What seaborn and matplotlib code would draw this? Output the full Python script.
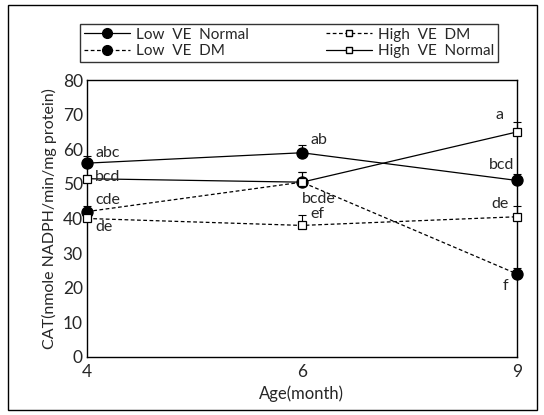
import numpy as np
import pandas as pd
import matplotlib
matplotlib.use("Agg")
import matplotlib.pyplot as plt
import seaborn as sns
from matplotlib.patches import Rectangle
from matplotlib.lines import Line2D

# Datos
ages = ["4", "6", "9"]
low_normal = [56, 59, 51]
low_dm = [42, 50.5, 24]
high_dm = [40, 38, 40.5]
high_normal = [51.5, 50.5, 65]

low_normal_err = [2, 2.3, 2]
low_dm_err = [1.7, 3, 1.7]
high_dm_err = [1, 3, 3]
high_normal_err = [1, 3, 3]

low_normal_lbl = ["abc", "ab", "bcd"]
low_dm_lbl = ["cde", "bcde", "f"]
high_dm_lbl = ["de", "ef", "de"]
high_normal_lbl = ["bcd", "", "a"]

sns.set_style("white")
plt.rcParams['font.family'] = ['Lato', 'DejaVu Sans']

fig = plt.figure(figsize=(5.44, 4.15), dpi=100)
ax = fig.add_axes([0.160, 0.140, 0.790, 0.667])

x = np.arange(len(ages))

series = [
    ("Low VE Normal", low_normal, low_normal_err, "o", "-", "black"),
    ("Low VE DM", low_dm, low_dm_err, "o", (0, (3, 2)), "black"),
    ("High VE DM", high_dm, high_dm_err, "s", (0, (3, 2)), "white"),
    ("High VE Normal", high_normal, high_normal_err, "s", "-", "white"),
]

for name, vals, err, mk, ls, fc in series:
    df = pd.DataFrame({"x": x, "y": vals})
    sns.lineplot(data=df, x="x", y="y", ax=ax, color="black", lw=0.9,
                 linestyle=ls, marker=mk, markersize=8 if mk == "o" else 6,
                 markerfacecolor=fc, markeredgecolor="black",
                 markeredgewidth=0.9, zorder=3)
    ax.errorbar(x, vals, yerr=[np.zeros(len(err)), err], fmt="none",
                ecolor="black", elinewidth=0.8, capsize=3, capthick=0.8,
                zorder=2)

for art in ax.lines + ax.collections:
    art.set_clip_on(False)

# Letras de significancia
offsets = {
    "low_normal": [(6, 2), (6, 4), (-20, 6)],
    "low_dm": [(6, 3), (0, -17), (-10, -14)],
    "high_dm": [(6, -11), (6, 3), (-18, 4)],
    "high_normal": [(6, -4), (0, 0), (-15, 7)],
}
groups = [("low_normal", low_normal, low_normal_lbl),
          ("low_dm", low_dm, low_dm_lbl),
          ("high_dm", high_dm, high_dm_lbl),
          ("high_normal", high_normal, high_normal_lbl)]
for key, vals, lbls in groups:
    for i, (v, t) in enumerate(zip(vals, lbls)):
        if not t:
            continue
        ax.annotate(t, (x[i], v), xytext=offsets[key][i],
                    textcoords="offset points", fontsize=11.5,
                    va="bottom", ha="left")

ax.set_xlim(0, 2)
ax.set_ylim(0, 80)
ax.set_xticks(x)
ax.set_xticklabels(ages)
ax.set_xticks([0.66, 1.33], minor=True)
ax.set_yticks(np.arange(0, 81, 10))
ax.tick_params(axis="y", direction="in", length=5, width=0.8, labelsize=12.5, pad=3)
ax.tick_params(axis="x", which="major", length=0, labelsize=12.5, pad=5)
ax.tick_params(axis="x", which="minor", direction="in", length=5, width=0.8)
ax.set_xlabel("Age(month)", fontsize=12)
ax.set_ylabel("CAT(nmole NADPH/min/mg protein)", fontsize=11.5, labelpad=4)
for s in ax.spines.values():
    s.set_color("black")
    s.set_linewidth(1.0)

# Leyenda en caja
handles = [
    Line2D([], [], color="black", lw=0.9, ls="-", marker="o", markersize=7,
           markerfacecolor="black"),
    Line2D([], [], color="black", lw=0.9, ls=(0, (3, 2)), marker="o", markersize=7,
           markerfacecolor="black"),
    Line2D([], [], color="black", lw=0.9, ls=(0, (3, 2)), marker="s", markersize=5,
           markerfacecolor="white"),
    Line2D([], [], color="black", lw=0.9, ls="-", marker="s", markersize=5,
           markerfacecolor="white"),
]
labels = ["Low  VE  Normal", "Low  VE  DM", "High  VE  DM", "High  VE  Normal"]
leg = fig.legend(handles, labels, ncol=2, loc="lower left",
                 bbox_to_anchor=(0.147, 0.851, 0.768, 0.106), mode="expand",
                 frameon=True, fancybox=False, fontsize=11, handlelength=3,
                 borderpad=0.25, labelspacing=0.15, columnspacing=1.0,
                 handletextpad=0.4, borderaxespad=0)
leg.get_frame().set_edgecolor("black")
leg.get_frame().set_linewidth(1.0)

# Marco exterior
fig.patches.append(Rectangle((0.015, 0.012), 0.972, 0.976, transform=fig.transFigure,
                             fill=False, edgecolor="black", lw=1.0))

fig.savefig("out.png", dpi=100)
